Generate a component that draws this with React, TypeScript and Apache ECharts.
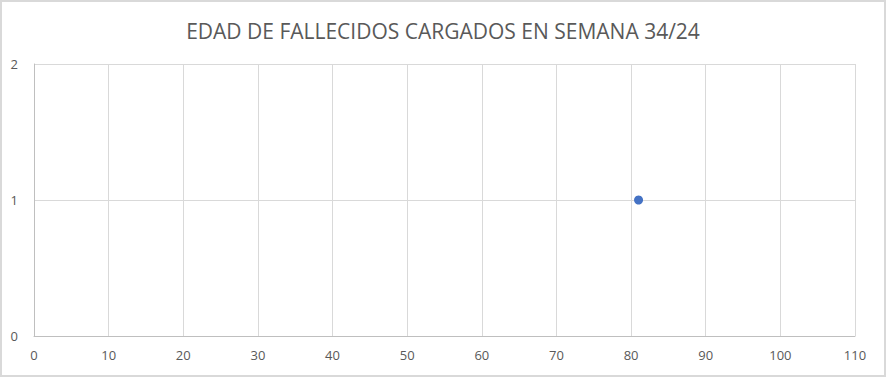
import React, { useEffect, useRef } from "react";
import * as echarts from "echarts";

const titleText = "EDAD DE FALLECIDOS CARGADOS EN SEMANA 34/24";
const ages = [81];
const counts = [1];
const xMin = 0, xMax = 110, xStep = 10;
const yMin = 0, yMax = 2, yStep = 1;

export default function App() {
  const ref = useRef<HTMLDivElement>(null);
  useEffect(() => {
    document.body.style.margin = "0";
    const chart = echarts.init(ref.current!, null, { renderer: "svg" });
    const font = "'Open Sans', sans-serif";
    chart.setOption({
      animation: false,
      backgroundColor: "#ffffff",
      title: {
        text: titleText,
        left: "center",
        top: 15,
        textStyle: { fontFamily: font, fontSize: 21, fontWeight: "normal", color: "#595959" },
      },
      graphic: [
        {
          type: "rect",
          shape: { x: 1, y: 1, width: 884, height: 375 },
          style: { fill: "none", stroke: "#d9d9d9", lineWidth: 2 },
          silent: true,
        },
      ],
      grid: { left: 34, right: 31, top: 64, bottom: 41 },
      xAxis: {
        type: "value",
        min: xMin,
        max: xMax,
        interval: xStep,
        axisLine: { show: true, lineStyle: { color: "#bfbfbf", width: 1 } },
        axisTick: { show: false },
        splitLine: { show: true, lineStyle: { color: "#d9d9d9", width: 1 } },
        axisLabel: { color: "#595959", fontFamily: font, fontSize: 13, margin: 12 },
      },
      yAxis: {
        type: "value",
        min: yMin,
        max: yMax,
        interval: yStep,
        axisLine: { show: true, lineStyle: { color: "#bfbfbf", width: 1 } },
        axisTick: { show: false },
        splitLine: { show: true, lineStyle: { color: "#d9d9d9", width: 1 } },
        axisLabel: { color: "#595959", fontFamily: font, fontSize: 13, margin: 16 },
      },
      series: [
        {
          type: "scatter",
          data: ages.map((a, i) => [a, counts[i]]),
          symbol: "circle",
          symbolSize: 9,
          itemStyle: { color: "#4472C4", opacity: 1 },
        },
      ],
    });
    return () => chart.dispose();
  }, []);
  return <div ref={ref} style={{ position: "fixed", left: 0, top: 0, width: 886, height: 377 }} />;
}
